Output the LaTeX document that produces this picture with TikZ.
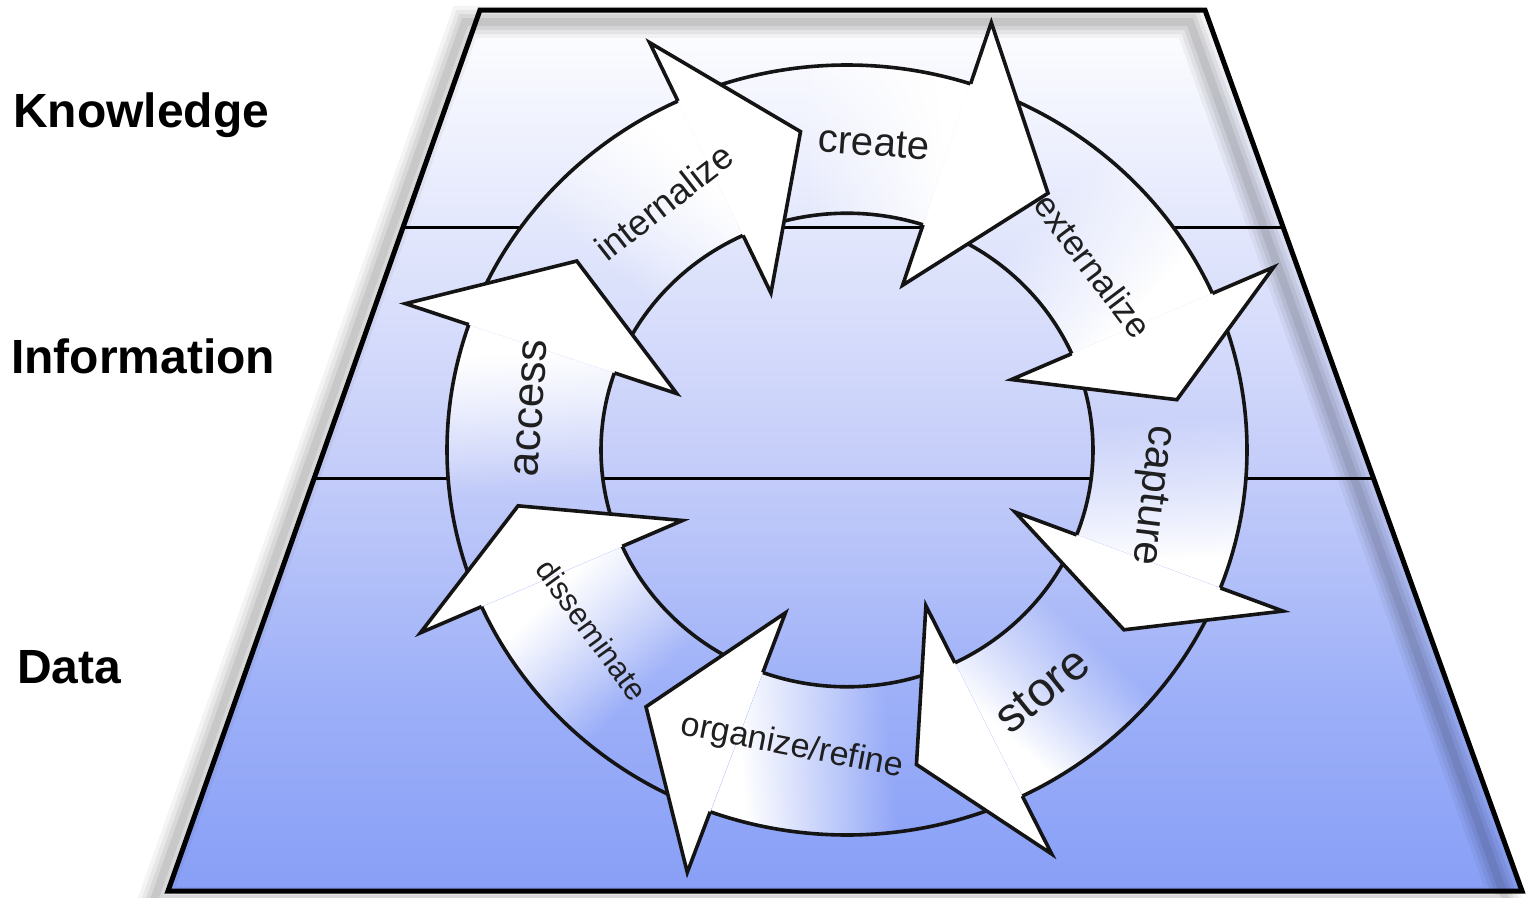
\documentclass[tikz,border=0pt]{standalone}
\usepackage{fontspec}
\setmainfont{Liberation Sans}
\usetikzlibrary{fadings}
\definecolor{bgA}{HTML}{889FF6}
\definecolor{bgB}{HTML}{9CAFF8}
\definecolor{bgC}{HTML}{C3CCF9}
\definecolor{bgD}{HTML}{E3E7FC}
\pgfdeclareverticalshading{bgshade}{100bp}{color(0bp)=(bgA); color(25bp)=(bgA); color(35.8bp)=(bgB); color(48.5bp)=(bgC); color(62.7bp)=(bgD); color(75bp)=(white); color(100bp)=(white)}
\pgfdeclarehorizontalshading{arrowfadeshade}{100bp}{color(0bp)=(black); color(46bp)=(black); color(70bp)=(white); color(100bp)=(white)}
\pgfdeclarefading{arrowfade}{\pgfuseshading{arrowfadeshade}}
\tikzset{
  arrowline/.style={draw=black!92, line width=3.6pt, line join=miter},
  arrowlbl/.style={font=\fontsize{#1}{#1}\selectfont, text=black!88, inner sep=0pt},
  layerlbl/.style={font=\bfseries\fontsize{48}{48}\selectfont, anchor=base west, inner sep=0pt},
}
\begin{document}
\begin{tikzpicture}[x=1pt,y=-1pt]
\useasboundingbox (0,0) rectangle (1534,897);
% trapezoid background
\coordinate (tl) at (480,10);
\coordinate (tr) at (1205,10);
\coordinate (br) at (1522,891);
\coordinate (bl) at (168,891);
\shade[shading=bgshade] (tl) -- (tr) -- (br) -- (bl) -- cycle;
% soft shadow
\begin{scope}[shift={(-15,12)}]
  \foreach \w/\o in {32/0.045, 24/0.055, 16/0.065, 8/0.075}
    \draw[line width=\w pt, black, opacity=\o] (480,10) -- (1205,10) -- (1522,891) -- (168,891) -- cycle;
\end{scope}
% layer lines
\coordinate (l1a) at (403.2,227);
\coordinate (l1b) at (1283.1,227);
\coordinate (l2a) at (314.3,478);
\coordinate (l2b) at (1373.4,478);
\draw[line width=3pt] (l1a) -- (l1b);
\draw[line width=3pt] (l2a) -- (l2b);
\draw[line width=5pt, line join=miter] (tl) -- (tr) -- (br) -- (bl) -- cycle;
% ring of arrows
\begin{scope}[shift={(847,450)}]
  \foreach \pb/\b in {156/199, 199/245, 245/288, 288/336, 336/381, 381/424, 424/470, 470/516} {
    \pgfmathsetmacro\fa{-((\pb+\b)/2+90)}
    \begin{scope}
      \clip (\pb:400 and 385) arc[start angle=\pb, end angle=\b, x radius=400, y radius=385]
        -- (\b:246 and 236.8) arc[start angle=\b, end angle=\pb, x radius=246, y radius=236.8] -- cycle;
      \shade[shading=bgshade] (-847,-440) rectangle (687,441);
      \fill[white, path fading=arrowfade, fading angle=\fa]
        (\pb:400 and 385) arc[start angle=\pb, end angle=\b, x radius=400, y radius=385]
        -- (\b:246 and 236.8) arc[start angle=\b, end angle=\pb, x radius=246, y radius=236.8] -- cycle;
    \end{scope}
    \draw[arrowline] (\pb:400 and 385) arc[start angle=\pb, end angle=\b, x radius=400, y radius=385];
    \draw[arrowline] (\pb:246 and 236.8) arc[start angle=\pb, end angle=\b, x radius=246, y radius=236.8];
  }
  \foreach \b/\t in {199/216, 245/262, 288/307, 336/351, 381/394, 424/438, 470/487, 516/530} {
    \fill[white] (\b:467 and 449.5) -- (\t:334 and 321.5) -- (\b:180 and 173.25) -- cycle;
    \draw[arrowline] (\b:400 and 385) -- (\b:467 and 449.5) -- (\t:334 and 321.5) -- (\b:180 and 173.25) -- (\b:246 and 236.8);
  }
\end{scope}
% arrow labels
\node[arrowlbl=40, rotate=-4] (create) at (874,143) {create};
\node[arrowlbl=35, rotate=-53] (externalize) at (1093,266) {externalize};
\node[arrowlbl=42, rotate=-97] (capture) at (1151,495) {capture};
\node[arrowlbl=48, rotate=39] (store) at (1042,690) {store};
\node[arrowlbl=34, rotate=-11] (organize) at (792,747) {organize/refine};
\node[arrowlbl=31, rotate=-54] (disseminate) at (592,630) {disseminate};
\node[arrowlbl=44, rotate=86] (access) at (531,408) {access};
\node[arrowlbl=36, rotate=38] (internalize) at (664,202) {internalize};
% layer labels
\node[layerlbl] (knowledge) at (13,127) {Knowledge};
\node[layerlbl] (information) at (11,373) {Information};
\node[layerlbl] (data) at (17,683) {Data};
\end{tikzpicture}
\end{document}
